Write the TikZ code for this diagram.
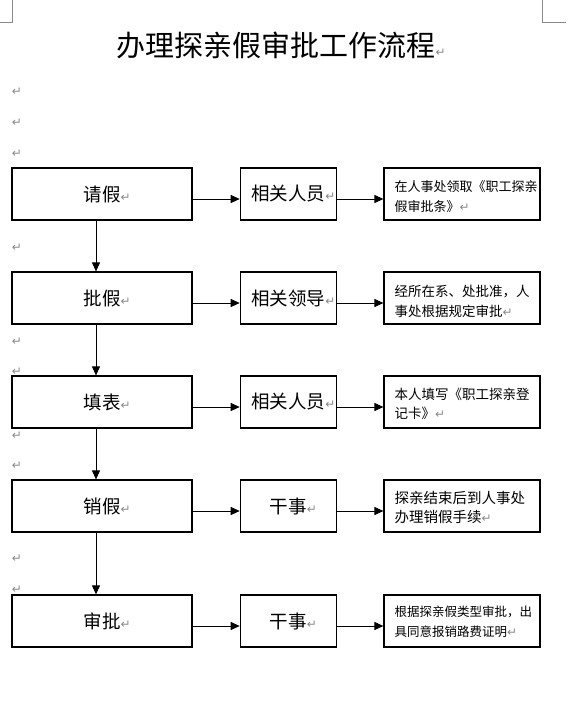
\documentclass[tikz,border=0pt]{standalone}
\usepackage{fontspec}
\setmainfont{Liberation Serif}
\newfontfamily\cjk{Noto Sans CJK SC}
\newfontfamily\dejavu{DejaVu Sans}
\usetikzlibrary{arrows.meta}
\definecolor{markgray}{HTML}{8A8A8A}
\newcommand\pmark{{\color{markgray}\dejavu\fontsize{12pt}{12pt}\selectfont ↵}}
\newcommand\bigtxt{\cjk\fontsize{18.5pt}{20pt}\selectfont}
\tikzset{
  boxbase/.style={draw, line width=1.2pt, inner sep=0pt},
  lbox/.style={boxbase, minimum width=180pt, minimum height=52pt, font=\bigtxt},
  mbox/.style={boxbase, minimum width=96pt, minimum height=52pt, font=\bigtxt},
  rbox/.style={boxbase, minimum width=156pt, minimum height=52pt},
  rtext/.style={anchor=west, align=left, inner sep=0pt},
  conn/.style={line width=1pt, -{Triangle[length=9pt,width=8pt]}},
  corner/.style={draw=markgray, line width=0.8pt},
  pm/.style={inner sep=0pt}
}
\begin{document}
\begin{tikzpicture}[x=1pt,y=-1pt]
\useasboundingbox (0,0) rectangle (571,720);
% corner marks
\draw[corner] (12,0) -- (12,22) -- (0,22);
\draw[corner] (542,0) -- (542,22) -- (566,22);
% title
\node[inner sep=0pt, font=\cjk\fontsize{29pt}{30pt}\selectfont] (title) at (276,45) {办理探亲假审批工作流程\rlap{\pmark}};
% left paragraph marks
\foreach \yy/\nm in {92/a,123/b,154/c,248/d,342/e,372/f,436/g,466/h,559/i,590/j}
  \node[pm] (pm\nm) at (17,\yy) {\pmark};
% rows
\node[lbox] (l1) at (102,194) {请假\rlap{\pmark}};
\node[lbox] (l2) at (102,298) {批假\rlap{\pmark}};
\node[lbox] (l3) at (102,402) {填表\rlap{\pmark}};
\node[lbox] (l4) at (102,506) {销假\rlap{\pmark}};
\node[lbox] (l5) at (102,621) {审批\rlap{\pmark}};
\node[mbox] (m1) at (288.3,194) {相关人员\rlap{\pmark}};
\node[mbox] (m2) at (288.3,298) {相关领导\rlap{\pmark}};
\node[mbox] (m3) at (288.3,402) {相关人员\rlap{\pmark}};
\node[mbox] (m4) at (288.3,506) {干事\rlap{\pmark}};
\node[mbox] (m5) at (288.3,621) {干事\rlap{\pmark}};
\node[rbox] (r1) at (462,194) {};
\node[rbox] (r2) at (462,298) {};
\node[rbox] (r3) at (462,402) {};
\node[rbox] (r4) at (462,506) {};
\node[rbox] (r5) at (462,621) {};
% right texts
\node[rtext, font=\cjk\fontsize{13pt}{20pt}\selectfont] (t1) at ([xshift=11pt,yshift=-3pt]r1.west) {在人事处领取《职工探亲\\假审批条》\pmark};
\node[rtext, font=\cjk\fontsize{13.5pt}{20pt}\selectfont] (t2) at ([xshift=11pt,yshift=-3pt]r2.west) {经所在系、处批准，人\\事处根据规定审批\pmark};
\node[rtext, font=\cjk\fontsize{13.5pt}{19pt}\selectfont] (t3) at ([xshift=11pt,yshift=-2pt]r3.west) {本人填写《职工探亲登\\记卡》\pmark};
\node[rtext, font=\cjk\fontsize{14.5pt}{19pt}\selectfont] (t4) at ([xshift=11pt,yshift=-2pt]r4.west) {探亲结束后到人事处\\办理销假手续\pmark};
\node[rtext, font=\cjk\fontsize{12.5pt}{20pt}\selectfont] (t5) at ([xshift=11pt,yshift=-0.5pt]r5.west) {根据探亲假类型审批，出\\具同意报销路费证明\pmark};
% vertical connectors
\foreach \a/\b in {l1/l2,l2/l3,l3/l4,l4/l5}
  \draw[conn] ([xshift=-6pt]\a.south) -- ([xshift=-6pt]\b.north);
% horizontal connectors
\foreach \i in {1,...,5}{
  \draw[conn] ([yshift=-5pt]l\i.east) -- ([yshift=-5pt]m\i.west);
  \draw[conn] ([yshift=-5pt]m\i.east) -- ([yshift=-5pt]r\i.west);
}
\end{tikzpicture}
\end{document}
